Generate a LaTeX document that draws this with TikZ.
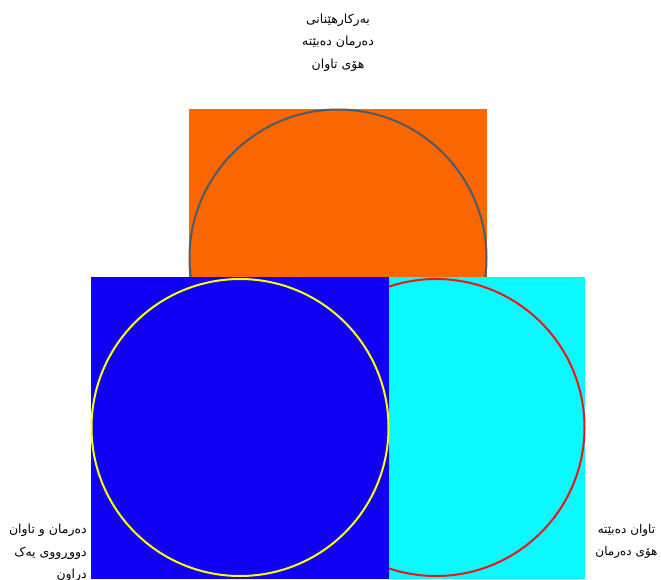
\documentclass[tikz,border=0pt]{standalone}
\usepackage{fontspec}
\newfontfamily\arabicfont[Script=Arabic]{DejaVu Sans}
\TeXXeTstate=1
\definecolor{cOrange}{RGB}{250,102,0}
\definecolor{cBlue}{RGB}{17,0,246}
\definecolor{cCyan}{RGB}{10,248,255}
\definecolor{cGray}{RGB}{78,92,104}
\definecolor{cYellow}{RGB}{255,255,0}
\definecolor{cRed}{RGB}{240,20,20}
\tikzset{
  box/.style={draw=none, inner sep=0pt, outer sep=0pt, minimum width=298pt, minimum height=302pt},
  ring/.style={circle, inner sep=0pt, outer sep=0pt, minimum size=297pt, line width=2pt},
  lbl/.style={font=\arabicfont\fontsize{12.5}{22.5}\selectfont, align=center, inner sep=0pt}
}
\begin{document}
\begin{tikzpicture}[x=1pt,y=-1pt]
\useasboundingbox (0,0) rectangle (661,579);
% top
\node[box, fill=cOrange, minimum width=298pt, minimum height=170pt] (top) at (338,194) {};
\node[ring, draw=cGray] (topc) at (338,258) {};
% right
\node[box, fill=cCyan, minimum width=298pt] (right) at (436,428) {};
\node[ring, draw=cRed] (rightc) at (436,427.5) {};
% left
\node[box, fill=cBlue] (left) at (240,428) {};
\node[ring, draw=cYellow] (leftc) at (240,427.5) {};
% labels
\node[lbl, anchor=north] (t1) at (338,13.5) {\beginR بەرکارهێنانی\endR\\ \beginR دەرمان دەبێتە\endR\\ \beginR هۆی  تاوان\endR};
\node[lbl, anchor=north east, align=right] (t2) at (87,524) {\beginR دەرمان و تاوان\endR\\ \beginR دووڕووی یەک\endR\\ \beginR دراون\endR};
\node[lbl, anchor=north, font=\arabicfont\fontsize{12}{22.5}\selectfont] (t3) at (626.5,524) {\beginR تاوان دەبێتە\endR\\ \beginR هۆی دەرمان\endR};
\end{tikzpicture}
\end{document}
